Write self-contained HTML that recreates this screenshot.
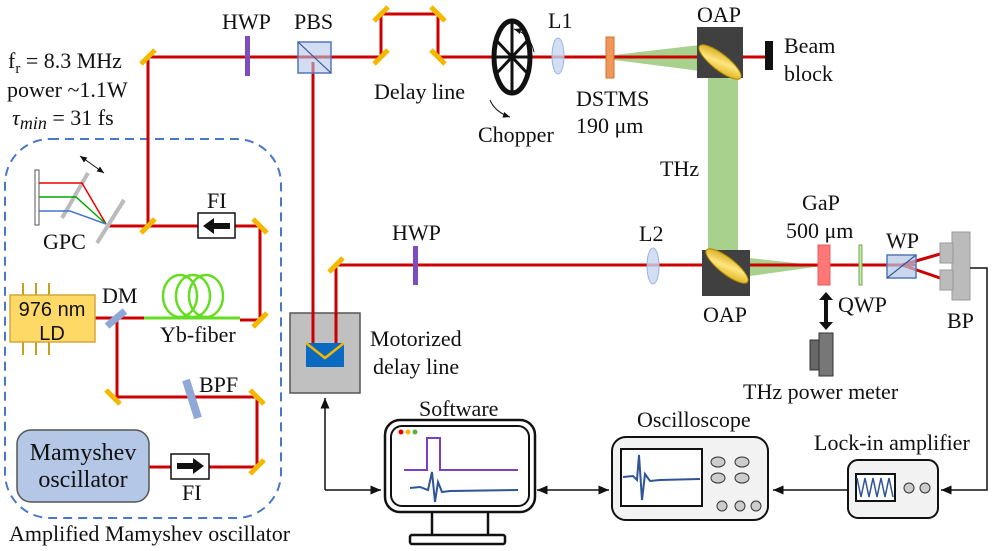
<!DOCTYPE html>
<html><head><meta charset="utf-8"><style>
html,body{margin:0;padding:0;background:#fff;}
svg{display:block;}
text{font-family:"Liberation Serif",serif;font-size:22px;fill:#111;}
.s{font-family:"Liberation Sans",sans-serif;}
</style></head><body>
<svg width="997" height="551" viewBox="0 0 997 551" xmlns="http://www.w3.org/2000/svg">
<defs>
<marker id="a" markerWidth="8" markerHeight="8" refX="7" refY="4" orient="auto-start-reverse"><path d="M0,1 L7,4 L0,7 z" fill="#111"/></marker>
<linearGradient id="g" x1="0" y1="0" x2="1" y2="1"><stop offset="0" stop-color="#c99a00"/><stop offset="0.5" stop-color="#ffe680"/><stop offset="1" stop-color="#d4a500"/></linearGradient>
</defs>
<rect x="5" y="139" width="276" height="379" rx="45" fill="none" stroke="#4a78c8" stroke-width="2" stroke-dasharray="9,6"/>
<polygon points="614,55 700,45 745,75 738,72 738,255 750,258 822,266 750,276 703,268 708,255 708,72 614,60" fill="#a9d18e"/>
<g stroke="#cc0000" stroke-width="3" fill="none">
<polyline points="148,226 148,57 381,57 381,14 438,14 438,57 705,57 765,57"/>
<polyline points="108,226 260,226 260,320 240,320"/>
<polyline points="144,318 95,318"/>
<polyline points="117,318 117,397 257,397 257,467 209,467"/>
<line x1="171" y1="467" x2="149" y2="467"/>
<polyline points="313,62 313,345 336,345 336,265 822,265 916,265"/>
<polyline points="902,265 940,254"/>
<polyline points="902,265 940,278"/>
</g>
<line x1="144" y1="318" x2="240" y2="318" stroke="#66dd22" stroke-width="3"/>
<g fill="none" stroke="#66dd22" stroke-width="2.5">
<ellipse cx="180" cy="296" rx="17" ry="21"/><ellipse cx="193" cy="296" rx="17" ry="21"/><ellipse cx="206" cy="296" rx="17" ry="21"/>
</g>
<g stroke="#f5b800" stroke-width="5">
<line x1="141" y1="64" x2="155" y2="50"/>
<line x1="374" y1="21" x2="388" y2="7"/>
<line x1="431" y1="7" x2="445" y2="21"/>
<line x1="374" y1="64" x2="388" y2="50"/>
<line x1="431" y1="50" x2="445" y2="64"/>
<line x1="141" y1="233" x2="155" y2="219"/>
<line x1="253" y1="219" x2="267" y2="233"/>
<line x1="253" y1="327" x2="267" y2="313"/>
<line x1="106" y1="390" x2="120" y2="404"/>
<line x1="250" y1="390" x2="264" y2="404"/>
<line x1="250" y1="474" x2="264" y2="460"/>
<line x1="329" y1="272" x2="343" y2="258"/>
</g>
<rect x="35" y="170" width="4" height="55" fill="#fff" stroke="#555"/>
<line x1="62" y1="218" x2="88" y2="173" stroke="#bbb" stroke-width="4"/>
<line x1="97" y1="243" x2="124" y2="200" stroke="#bbb" stroke-width="4"/>
<polyline points="39,183 82,183 106,224" stroke="#e00" stroke-width="1.5" fill="none"/>
<polyline points="39,197 76,197 106,224" stroke="#0a0" stroke-width="1.5" fill="none"/>
<polyline points="39,211 70,211 106,224" stroke="#47c" stroke-width="1.5" fill="none"/>
<line x1="80" y1="156" x2="104" y2="173" stroke="#111" stroke-width="1" marker-end="url(#a)" marker-start="url(#a)"/>
<rect x="198" y="213" width="37" height="25" fill="#fff" stroke="#111" stroke-width="1.5"/>
<polygon points="203,226 214,218 214,223 230,223 230,229 214,229 214,234" fill="#111"/>
<rect x="171" y="454" width="38" height="25" fill="#fff" stroke="#111" stroke-width="1.5"/>
<polygon points="204,466 193,458 193,463 177,463 177,469 193,469 193,474" fill="#111"/>
<g stroke="#c8a020" stroke-width="2"><line x1="23" y1="283" x2="23" y2="355"/><line x1="36" y1="283" x2="36" y2="355"/><line x1="49" y1="283" x2="49" y2="355"/></g>
<rect x="10" y="295" width="85" height="47" fill="#ffd966" stroke="#d4a838" stroke-width="1.5"/>
<text x="52" y="316" text-anchor="middle" class="s" style="font-size:20px">976 nm</text>
<text x="52" y="340" text-anchor="middle" class="s" style="font-size:20px">LD</text>
<line x1="107" y1="326" x2="125" y2="311" stroke="#8fa8d8" stroke-width="7"/>
<line x1="186" y1="380" x2="198" y2="418" stroke="#8fa8d8" stroke-width="8"/>
<rect x="17" y="430" width="132" height="72" rx="14" fill="#b4c7e7" stroke="#555" stroke-width="1.5"/>
<text x="83" y="460" text-anchor="middle" style="font-size:24px">Mamyshev</text>
<text x="83" y="487" text-anchor="middle" style="font-size:24px">oscillator</text>
<rect x="245" y="36" width="5" height="40" fill="#7e4dbd"/>
<rect x="413" y="246" width="5" height="39" fill="#7e4dbd"/>
<rect x="298" y="42" width="33" height="31" fill="#b4c7e7" fill-opacity="0.6" stroke="#5577bb" stroke-width="1.5"/>
<line x1="298" y1="42" x2="331" y2="73" stroke="#335599" stroke-width="1.2"/>
<rect x="290" y="313" width="70" height="80" fill="#c0c0c0" stroke="#555" stroke-width="1.5"/>
<g stroke="#cc0000" stroke-width="3" fill="none"><polyline points="313,300 313,345 336,345 336,300"/></g>
<polygon points="306,343 344,343 344,367 306,367" fill="#0a6ac0"/>
<polyline points="306,343 325,358 344,343" fill="none" stroke="#f5b800" stroke-width="2.5"/>
<ellipse cx="512" cy="57" rx="18" ry="36" fill="none" stroke="#111" stroke-width="5"/>
<g stroke="#111" stroke-width="3"><line x1="512" y1="21" x2="512" y2="93"/><line x1="496" y1="40" x2="528" y2="74"/><line x1="496" y1="74" x2="528" y2="40"/><line x1="494" y1="57" x2="530" y2="57"/></g>
<path d="M514,29 Q530,34 534,52" fill="none" stroke="#111" stroke-width="1" marker-start="url(#a)"/>
<path d="M490,100 Q495,112 510,117" fill="none" stroke="#111" stroke-width="1" marker-end="url(#a)"/>
<ellipse cx="558" cy="56" rx="6" ry="18" fill="#c5d6f0" fill-opacity="0.8" stroke="#9ab3e0"/>
<ellipse cx="653" cy="266" rx="6" ry="18" fill="#c5d6f0" fill-opacity="0.8" stroke="#9ab3e0"/>
<rect x="606" y="37" width="8" height="41" fill="#f0975a" stroke="#d07030"/>
<rect x="697" y="27" width="46" height="51" fill="#404040"/>
<ellipse cx="720" cy="62" rx="26" ry="8" transform="rotate(38 720 62)" fill="url(#g)" stroke="#b08800"/>
<rect x="702" y="250" width="48" height="46" fill="#404040"/>
<ellipse cx="727" cy="266" rx="26" ry="8" transform="rotate(38 727 266)" fill="url(#g)" stroke="#b08800"/>
<rect x="765" y="41" width="8" height="29" fill="#111"/>
<rect x="818" y="245" width="12" height="40" fill="#ff7777" stroke="#e06060"/>
<rect x="859" y="245" width="3" height="40" fill="#c8e6b0" stroke="#70ad47"/>
<rect x="887" y="255" width="29" height="23" fill="#b4c7e7" fill-opacity="0.7" stroke="#5577bb" stroke-width="1.5"/>
<line x1="887" y1="278" x2="916" y2="255" stroke="#335599" stroke-width="1.2"/>
<rect x="952" y="232" width="18" height="68" fill="#bbb" stroke="#999"/>
<rect x="940" y="243" width="13" height="20" fill="#bbb" stroke="#999"/>
<rect x="940" y="270" width="13" height="20" fill="#bbb" stroke="#999"/>
<line x1="826" y1="296" x2="826" y2="326" stroke="#111" stroke-width="4"/>
<polygon points="819,300 826,292 833,300" fill="#111"/><polygon points="819,322 826,330 833,322" fill="#111"/>
<rect x="810" y="340" width="12" height="30" fill="#666" stroke="#333"/>
<rect x="819" y="333" width="14" height="43" fill="#777" stroke="#333"/>
<g stroke="#111" stroke-width="1.5" fill="none">
<polyline points="325,490 325,398" marker-end="url(#a)"/>
<polyline points="325,490 381,490" marker-end="url(#a)"/>
<line x1="537" y1="490" x2="609" y2="490" marker-end="url(#a)" marker-start="url(#a)"/>
<line x1="847" y1="490" x2="773" y2="490" marker-end="url(#a)"/>
<polyline points="970,268 987,268 987,490 941,490" marker-end="url(#a)"/>
</g>
<rect x="385" y="420" width="150" height="92" rx="15" fill="#fff" stroke="#111" stroke-width="2.5"/>
<rect x="391" y="426" width="138" height="80" rx="11" fill="#fff" stroke="#111" stroke-width="2"/>
<circle cx="401" cy="432" r="2.5" fill="#e00"/><circle cx="408" cy="432" r="2.5" fill="#f5b800"/><circle cx="415" cy="432" r="2.5" fill="#6a4"/>
<polyline points="404,470 427,470 427,438 440,438 440,470 518,470" fill="none" stroke="#7e3fbf" stroke-width="2"/>
<polyline points="410,488 420,487 428,490 432,472 435,502 438,482 442,492 450,491 518,490" fill="none" stroke="#2f5597" stroke-width="2"/>
<line x1="432" y1="512" x2="432" y2="535" stroke="#111" stroke-width="2.5"/>
<line x1="488" y1="512" x2="488" y2="535" stroke="#111" stroke-width="2.5"/>
<rect x="410" y="535" width="95" height="9" rx="2" fill="#fff" stroke="#111" stroke-width="2.5"/>
<rect x="612" y="437" width="156" height="83" rx="14" fill="#f2f2f2" stroke="#111" stroke-width="2"/>
<rect x="621" y="449" width="81" height="57" fill="#fff" stroke="#111" stroke-width="2"/>
<polyline points="623,477 633,476 637,480 639,455 642,500 645,474 650,481 660,480 700,479" fill="none" stroke="#2f5597" stroke-width="2"/>
<g fill="#ccc" stroke="#333"><ellipse cx="718" cy="462" rx="7" ry="5"/><ellipse cx="742" cy="462" rx="7" ry="5"/><ellipse cx="718" cy="478" rx="7" ry="5"/><ellipse cx="742" cy="478" rx="7" ry="5"/><circle cx="722" cy="506" r="5"/><circle cx="740" cy="506" r="5"/><circle cx="756" cy="506" r="5"/></g>
<rect x="848" y="460" width="90" height="58" rx="10" fill="#f2f2f2" stroke="#111" stroke-width="2"/>
<rect x="856" y="474" width="39" height="27" fill="#fff" stroke="#111" stroke-width="2"/>
<polyline points="857,478 861,497 865,478 869,497 873,478 877,497 881,478 885,497 889,478 893,497" fill="none" stroke="#2f5597" stroke-width="1.5"/>
<g fill="#ccc" stroke="#333"><circle cx="909" cy="488" r="5"/><circle cx="925" cy="488" r="5"/></g>
<text x="8" y="68">f<tspan dy="5" style="font-size:15px">r</tspan><tspan dy="-5"> = 8.3 MHz</tspan></text>
<text x="7" y="97">power ~1.1W</text>
<text x="12" y="125"><tspan font-style="italic">τ</tspan><tspan dy="4" font-style="italic" style="font-size:18px">min</tspan><tspan dy="-4"> = 31 fs</tspan></text>
<text x="222" y="29">HWP</text>
<text x="294" y="29">PBS</text>
<text x="374" y="99">Delay line</text>
<text x="478" y="142">Chopper</text>
<text x="548" y="28">L1</text>
<text x="576" y="106">DSTMS</text>
<text x="576" y="133">190 μm</text>
<text x="697" y="22">OAP</text>
<text x="784" y="53">Beam</text>
<text x="784" y="81">block</text>
<text x="660" y="176">THz</text>
<text x="802" y="210">GaP</text>
<text x="786" y="238">500 μm</text>
<text x="886" y="248">WP</text>
<text x="639" y="241">L2</text>
<text x="392" y="240">HWP</text>
<text x="703" y="322">OAP</text>
<text x="838" y="312">QWP</text>
<text x="947" y="328">BP</text>
<text x="743" y="399">THz power meter</text>
<text x="207" y="208">FI</text>
<text x="43" y="249">GPC</text>
<text x="102" y="303">DM</text>
<text x="160" y="342">Yb-fiber</text>
<text x="199" y="392">BPF</text>
<text x="182" y="500">FI</text>
<text x="370" y="346">Motorized</text>
<text x="373" y="374">delay line</text>
<text x="419" y="416">Software</text>
<text x="637" y="427">Oscilloscope</text>
<text x="814" y="450">Lock-in amplifier</text>
<text x="9" y="541">Amplified Mamyshev oscillator</text>
</svg>
</body></html>
